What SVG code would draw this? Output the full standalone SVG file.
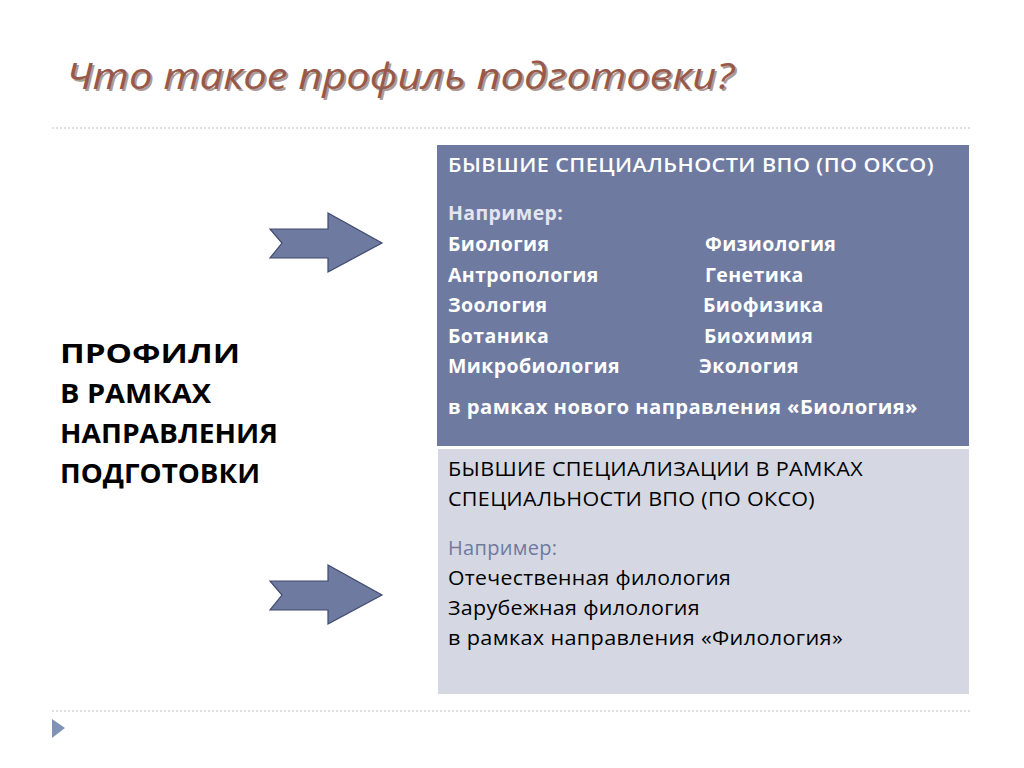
<svg xmlns="http://www.w3.org/2000/svg" width="1024" height="768" viewBox="0 0 1024 768">
<style>
text{font-family:"Open Sans","Liberation Sans",sans-serif}
.w{fill:#fff;font-size:19.5px;font-weight:bold;letter-spacing:0.4px}
.d{fill:#000;font-size:20px;letter-spacing:0.3px}
.sep{stroke:#bfbfbf;stroke-width:1.2;stroke-dasharray:2 2}
.arr{fill:#6E7AA0;stroke:#3f4a6e;stroke-width:1.2}
.l{font-size:26px;font-weight:bold;fill:#000}
</style>
<rect width="1024" height="768" fill="#fff"/>
<text x="66" y="89" font-size="36" font-style="italic" fill="#5a3a30" opacity="0.5" transform="translate(2,2)" textLength="668" lengthAdjust="spacingAndGlyphs">Что такое профиль подготовки?</text>
<text x="66" y="89" font-size="36" font-style="italic" fill="#98584a" textLength="668" lengthAdjust="spacingAndGlyphs">Что такое профиль подготовки?</text>
<line class="sep" x1="52" y1="128" x2="972" y2="128"/>
<line class="sep" x1="52" y1="711" x2="972" y2="711"/>
<polygon points="52,719 65,728 52,738" fill="#7f93b8"/>
<g id="left">
<text class="l" x="60" y="363" textLength="180" lengthAdjust="spacingAndGlyphs">ПРОФИЛИ</text>
<text class="l" x="60" y="403" textLength="151" lengthAdjust="spacingAndGlyphs">В РАМКАХ</text>
<text class="l" x="60" y="443" textLength="218" lengthAdjust="spacingAndGlyphs">НАПРАВЛЕНИЯ</text>
<text class="l" x="60" y="483" textLength="200" lengthAdjust="spacingAndGlyphs">ПОДГОТОВКИ</text>
</g>
<g id="connectors">
<polygon class="arr" points="270,229 328,229 328,213 382,243 328,272 328,258 270,258 282,243"/>
<polygon class="arr" points="270,581 328,581 328,565 382,595 328,624 328,610 270,610 282,595"/>
</g>
<g id="box1">
<rect x="437" y="145" width="532" height="301" fill="#6E7AA0"/>
<text class="w" x="448" y="172" style="font-weight:600" textLength="486" lengthAdjust="spacingAndGlyphs">БЫВШИЕ СПЕЦИАЛЬНОСТИ ВПО  (ПО ОКСО)</text>
<text class="w" x="448" y="220" style="fill:#e3e6f0">Например:</text>
<text class="w" x="448" y="251">Биология</text><text class="w" x="705" y="251">Физиология</text>
<text class="w" x="448" y="282">Антропология</text><text class="w" x="705" y="282">Генетика</text>
<text class="w" x="448" y="312">Зоология</text><text class="w" x="703" y="312">Биофизика</text>
<text class="w" x="448" y="343">Ботаника</text><text class="w" x="704" y="343">Биохимия</text>
<text class="w" x="448" y="373">Микробиология</text><text class="w" x="699" y="373">Экология</text>
<text class="w" x="448" y="414" textLength="470" lengthAdjust="spacingAndGlyphs">в рамках нового направления «Биология»</text>
</g>
<g id="box2">
<rect x="438" y="449" width="531" height="245" fill="#D5D8E2"/>
<text class="d" x="448" y="476" textLength="415" lengthAdjust="spacingAndGlyphs">БЫВШИЕ СПЕЦИАЛИЗАЦИИ В РАМКАХ</text>
<text class="d" x="448" y="506" textLength="367" lengthAdjust="spacingAndGlyphs">СПЕЦИАЛЬНОСТИ ВПО (ПО ОКСО)</text>
<text class="d" x="448" y="555" style="fill:#6E7AA0">Например:</text>
<text class="d" x="448" y="585" textLength="283" lengthAdjust="spacingAndGlyphs">Отечественная филология</text>
<text class="d" x="448" y="615" textLength="252" lengthAdjust="spacingAndGlyphs">Зарубежная филология</text>
<text class="d" x="448" y="645" textLength="395" lengthAdjust="spacingAndGlyphs">в рамках направления «Филология»</text>
</g>
</svg>
